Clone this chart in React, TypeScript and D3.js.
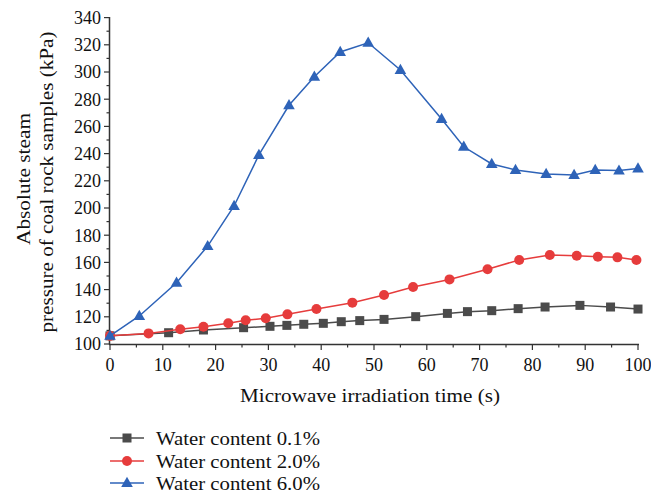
import React from "react";
import * as d3 from "d3";

const tBlack = [0, 11.1, 17.7, 25.3, 30.3, 33.5, 36.7, 40.4, 43.8, 47.3, 51.9, 57.9, 63.9, 67.7, 72.3, 77.3, 82.4, 89.0, 94.8, 100];
const vBlack = [106, 108.3, 110.3, 112, 113, 113.7, 114.5, 115.2, 116.4, 117.2, 118.1, 120.1, 122.5, 123.8, 124.5, 126, 127.2, 128.4, 127.2, 125.7];
const tRed = [0, 7.3, 13.3, 17.7, 22.4, 25.7, 29.5, 33.6, 39.1, 45.9, 51.9, 57.4, 64.3, 71.5, 77.5, 83.3, 88.4, 92.4, 96.1, 99.7];
const vRed = [106, 107.8, 110.8, 112.7, 115.2, 117.4, 118.9, 121.8, 125.7, 130.4, 136, 141.9, 147.5, 155, 161.8, 165.4, 164.9, 164.2, 163.7, 161.8];
const tBlue = [0, 5.55, 12.6, 18.5, 23.5, 28.2, 33.9, 38.7, 43.6, 48.9, 55, 62.8, 67.0, 72.3, 76.8, 82.6, 87.9, 91.9, 96.4, 100];
const vBlue = [106, 120.6, 145, 172, 201.5, 239, 275.5, 296.5, 314.7, 321.5, 301.5, 265.4, 245, 232.4, 228, 225, 224.3, 228, 227.5, 229];

const seriesNames = ["Water content 0.1%", "Water content 2.0%", "Water content 6.0%"];
const xTicks = [0, 10, 20, 30, 40, 50, 60, 70, 80, 90, 100];
const yTicks = [100, 120, 140, 160, 180, 200, 220, 240, 260, 280, 300, 320, 340];

const colors = ["#4b4b4b", "#e63c3c", "#2e63b8"];
const FONT = "'Liberation Serif', 'DejaVu Serif', serif";

function Marker({ kind, x, y, color }: { kind: number; x: number; y: number; color: string }) {
  if (kind === 0) return <rect x={x - 4.5} y={y - 4.5} width={9} height={9} fill={color} />;
  if (kind === 1) return <circle cx={x} cy={y} r={5} fill={color} />;
  return <path d={`M${x},${y - 6.2} L${x + 5.8},${y + 4} L${x - 5.8},${y + 4} Z`} fill={color} />;
}

export default function App() {
  const W = 651, H = 496;
  const x = d3.scaleLinear().domain([0, 100]).range([110, 638]);
  const y = d3.scaleLinear().domain([100, 340]).range([344, 17.6]);
  const data = [
    tBlack.map((t, i) => [t, vBlack[i]]),
    tRed.map((t, i) => [t, vRed[i]]),
    tBlue.map((t, i) => [t, vBlue[i]]),
  ];
  const line = d3.line<number[]>().x(d => x(d[0])).y(d => y(d[1]));
  const axisColor = "#333";
  const xMinor = d3.range(0, 101, 5).filter(v => v % 10 !== 0);
  const yMinor = d3.range(110, 340, 20);
  const legendY = [438, 461, 483];

  return (
    <svg width={W} height={H} style={{ position: "absolute", left: 0, top: 0, background: "#fff" }} fontFamily={FONT}>
      <rect width={W} height={H} fill="#fff" />
      <line x1={109.5} x2={109.5} y1={17} y2={344.5} stroke={axisColor} strokeWidth={1.5} />
      <line x1={109} x2={639} y1={344.5} y2={344.5} stroke={axisColor} strokeWidth={1.5} />
      {yTicks.map(v => (
        <g key={"y" + v}>
          <line x1={104} x2={109.5} y1={y(v)} y2={y(v)} stroke={axisColor} strokeWidth={1.2} />
          <text x={101} y={y(v)} dy="0.35em" textAnchor="end" fontSize={18} fill="#111">{v}</text>
        </g>
      ))}
      {yMinor.map(v => (
        <line key={"ym" + v} x1={106.5} x2={109.5} y1={y(v)} y2={y(v)} stroke={axisColor} strokeWidth={1.2} />
      ))}
      {xTicks.map(v => (
        <g key={"x" + v}>
          <line x1={x(v)} x2={x(v)} y1={344.5} y2={350} stroke={axisColor} strokeWidth={1.2} />
          <text x={x(v)} y={365} dy="0.35em" textAnchor="middle" fontSize={18} fill="#111">{v}</text>
        </g>
      ))}
      {xMinor.map(v => (
        <line key={"xm" + v} x1={x(v)} x2={x(v)} y1={344.5} y2={347.5} stroke={axisColor} strokeWidth={1.2} />
      ))}
      <text x={370} y={395} dy="0.35em" textAnchor="middle" fontSize={19} textLength={260} lengthAdjust="spacingAndGlyphs" fill="#111">Microwave irradiation time (s)</text>
      <g transform="translate(23,179) rotate(-90)">
        <text x={0} y={0} dy="0.35em" textAnchor="middle" fontSize={19} textLength={132} lengthAdjust="spacingAndGlyphs" fill="#111">Absolute steam</text>
      </g>
      <g transform="translate(46,182) rotate(-90)">
        <text x={0} y={0} dy="0.35em" textAnchor="middle" fontSize={19} textLength={301} lengthAdjust="spacingAndGlyphs" fill="#111">pressure of coal rock samples (kPa)</text>
      </g>
      {data.map((s, k) => (
        <g key={"s" + k}>
          <path d={line(s) || ""} fill="none" stroke={colors[k]} strokeWidth={1.5} />
          {s.map((d, i) => (
            <Marker key={i} kind={k} x={x(d[0])} y={y(d[1])} color={colors[k]} />
          ))}
        </g>
      ))}
      {seriesNames.map((n, k) => (
        <g key={"l" + k}>
          <line x1={110} x2={144} y1={legendY[k]} y2={legendY[k]} stroke={colors[k]} strokeWidth={1.5} />
          <Marker kind={k} x={127} y={legendY[k]} color={colors[k]} />
          <text x={156} y={legendY[k]} dy="0.35em" fontSize={19} textLength={164} lengthAdjust="spacingAndGlyphs" fill="#111">{n}</text>
        </g>
      ))}
    </svg>
  );
}
